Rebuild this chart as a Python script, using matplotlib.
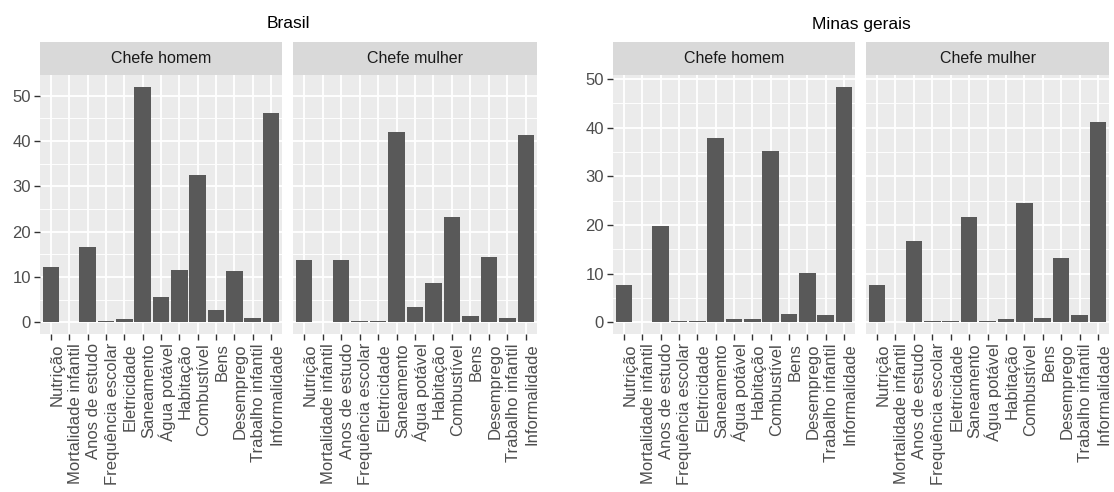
import matplotlib
matplotlib.use("Agg")
import matplotlib.pyplot as plt
import matplotlib.transforms as mtransforms
import numpy as np

categorias = ["Nutrição", "Mortalidade infantil", "Anos de estudo", "Frequência escolar",
              "Eletricidade", "Saneamento", "Água potável", "Habitação", "Combustível",
              "Bens", "Desemprego", "Trabalho infantil", "Informalidade"]

brasil_homem = [12.3, 0.0, 16.7, 0.3, 0.7, 52.0, 5.5, 11.6, 32.5, 2.7, 11.3, 0.9, 46.1]
brasil_mulher = [13.7, 0.0, 13.7, 0.3, 0.3, 42.1, 3.4, 8.6, 23.3, 1.4, 14.3, 1.0, 41.4]
minas_homem = [7.7, 0.0, 19.8, 0.3, 0.3, 37.9, 0.7, 0.7, 35.3, 1.6, 10.2, 1.4, 48.4]
minas_mulher = [7.7, 0.0, 16.6, 0.3, 0.3, 21.7, 0.3, 0.7, 24.6, 0.9, 13.1, 1.4, 41.2]

facetas = ["Chefe homem", "Chefe mulher"]
titulos = ["Brasil", "Minas gerais"]
yticks = [0, 10, 20, 30, 40, 50]

W, H = 1114, 492
fig = plt.figure(figsize=(W / 100, H / 100), dpi=100)
plt.rcParams['font.family'] = ['Liberation Sans', 'DejaVu Sans']

def px_axes(x0, x1, y0, y1):
    return fig.add_axes([x0 / W, 1 - y1 / H, (x1 - x0) / W, (y1 - y0) / H])

groups = [
    (titulos[0], [brasil_homem, brasil_mulher], [(40, 282), (293, 537)]),
    (titulos[1], [minas_homem, minas_mulher], [(613, 855), (866, 1109)]),
]

panel_top, panel_bot = 75, 334
strip_top = 42
x = np.arange(len(categorias))
off = mtransforms.ScaledTranslation(6 / 100, 0, fig.dpi_scale_trans)

for title, series, spans in groups:
    ymax = max(max(s) for s in series)
    for i, (vals, (x0, x1)) in enumerate(zip(series, spans)):
        ax = px_axes(x0, x1, panel_top, panel_bot)
        ax.set_facecolor("#EBEBEB")
        ax.bar(x, vals, width=0.9, color="#595959", zorder=3)
        ax.set_xlim(-0.6, len(categorias) - 0.4)
        ax.set_ylim(-0.05 * ymax, 1.05 * ymax)
        ax.set_yticks(yticks)
        ax.set_yticks([5, 15, 25, 35, 45], minor=True)
        ax.set_xticks(x)
        ax.grid(which="major", color="white", linewidth=1.3, zorder=1)
        ax.grid(which="minor", axis="y", color="white", linewidth=0.65, zorder=1)
        for s in ax.spines.values():
            s.set_visible(False)
        ax.tick_params(axis="both", which="major", length=4.5, width=1, color="#333333",
                       labelcolor="#4D4D4D", labelsize=12, pad=2)
        ax.tick_params(axis="both", which="minor", length=0)
        ax.set_xticklabels(categorias, rotation=90, ha="center", va="top")
        for lab in ax.get_xticklabels():
            lab.set_transform(lab.get_transform() + off)
        if i > 0:
            ax.tick_params(axis="y", labelleft=False, length=0)
        # strip
        sax = px_axes(x0, x1, strip_top, panel_top)
        sax.set_facecolor("#D9D9D9")
        sax.set_xticks([]); sax.set_yticks([])
        for s in sax.spines.values():
            s.set_visible(False)
        sax.text(0.5, 0.5, facetas[i], ha="center", va="center", fontsize=11.5,
                 color="#1A1A1A", transform=sax.transAxes)
    cx = (spans[0][0] + spans[1][1]) / 2
    fig.text(cx / W, 1 - 24 / H, title, ha="center", va="center", fontsize=12.5, color="black")

fig.savefig("out.png", dpi=100, facecolor="white")
